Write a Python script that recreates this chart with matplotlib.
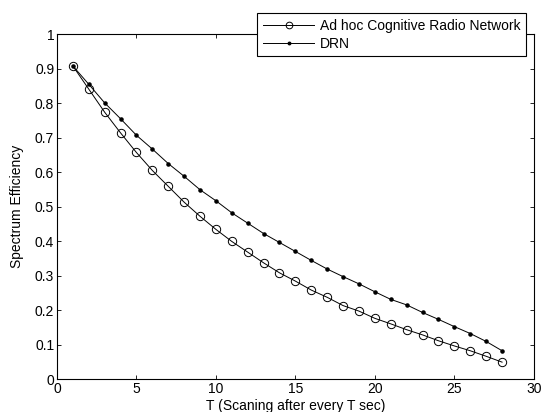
import numpy as np
import matplotlib
matplotlib.use('Agg')
import matplotlib.pyplot as plt

plt.rcParams['font.family'] = ['Liberation Sans', 'DejaVu Sans']

# 扫描间隔 T
T = list(range(1, 29))

# Ad hoc Cognitive Radio Network
adhoc = [0.908, 0.841, 0.774, 0.714, 0.657, 0.605, 0.559, 0.513, 0.472, 0.434,
         0.399, 0.368, 0.337, 0.308, 0.284, 0.258, 0.237, 0.213, 0.197, 0.176,
         0.160, 0.143, 0.128, 0.111, 0.096, 0.082, 0.066, 0.049]

# DRN
drn = [0.908, 0.855, 0.801, 0.755, 0.707, 0.667, 0.625, 0.588, 0.549, 0.517,
       0.482, 0.452, 0.422, 0.396, 0.370, 0.344, 0.319, 0.297, 0.276, 0.253,
       0.231, 0.215, 0.193, 0.173, 0.152, 0.132, 0.109, 0.082]

labels = ['Ad hoc Cognitive Radio Network', 'DRN']

fig = plt.figure(figsize=(5.42, 4.12), dpi=100)
ax = fig.add_axes([0.105, 0.080, 0.880, 0.837])

ax.plot(T, adhoc, 'k-', marker='o', markersize=6, markerfacecolor='none',
        markeredgewidth=0.7, linewidth=0.7, label=labels[0])
ax.plot(T, drn, 'k-', marker='.', markersize=4.5, linewidth=0.7, label=labels[1])

ax.set_xlim(0, 30)
ax.set_ylim(0, 1)
ax.set_xticks(np.arange(0, 31, 5))
ax.set_yticks(np.arange(0, 1.01, 0.1))
ax.set_yticklabels(['0', '0.1', '0.2', '0.3', '0.4', '0.5', '0.6', '0.7', '0.8', '0.9', '1'])
ax.tick_params(direction='in', top=True, right=True, labelsize=10, length=3, width=0.6, pad=2)
for s in ax.spines.values():
    s.set_linewidth(0.8)

ax.set_ylabel('Spectrum Efficiency', fontsize=10, labelpad=8)
fig.text(0.5 * (0.105 + 0.985), 1 - 406 / 412, 'T (Scaning after every T sec)',
         fontsize=10, ha='center', va='center')

leg = ax.legend(loc='upper right', bbox_to_anchor=(526 / 542, 1 - 13 / 412),
                bbox_transform=fig.transFigure, fontsize=10, fancybox=False,
                framealpha=1, edgecolor='black', borderpad=0.4, labelspacing=0.3,
                handlelength=3.7, handletextpad=0.4, borderaxespad=0, markerscale=0.8)
leg.get_frame().set_linewidth(0.8)

fig.savefig('out.png', dpi=100)
